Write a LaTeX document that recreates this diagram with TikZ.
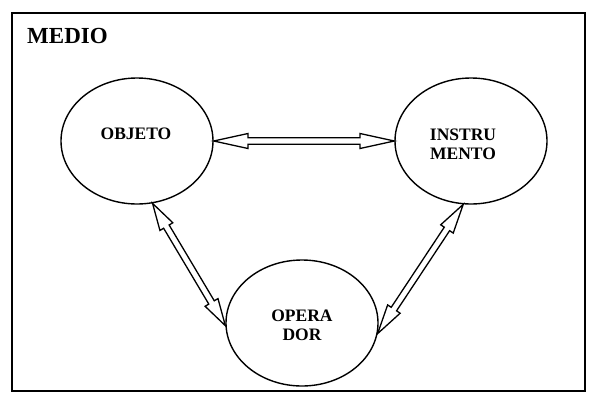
\documentclass[tikz,border=0pt]{standalone}
\usepackage{fontspec}
\setmainfont{Liberation Serif}
\usetikzlibrary{shapes.geometric,calc}
\tikzset{
  elip/.style={draw,ellipse,line width=1.4pt,minimum width=152pt,minimum height=126pt,inner sep=0pt},
  lbl/.style={font=\bfseries\fontsize{17.5}{19}\selectfont,align=center,inner sep=0pt},
  dblarrow/.style={draw,fill=white,line width=1.3pt,line join=miter,
    to path={-- ($(\tikztostart)!#1!(\tikztotarget)!7.5pt!90:(\tikztotarget)$)
      -- ($(\tikztostart)!#1!(\tikztotarget)!3.2pt!90:(\tikztotarget)$)
      -- ($(\tikztotarget)!#1!(\tikztostart)!3.2pt!-90:(\tikztostart)$)
      -- ($(\tikztotarget)!#1!(\tikztostart)!7.5pt!-90:(\tikztostart)$)
      -- (\tikztotarget)
      -- ($(\tikztotarget)!#1!(\tikztostart)!7.5pt!90:(\tikztostart)$)
      -- ($(\tikztotarget)!#1!(\tikztostart)!3.2pt!90:(\tikztostart)$)
      -- ($(\tikztostart)!#1!(\tikztotarget)!3.2pt!-90:(\tikztotarget)$)
      -- ($(\tikztostart)!#1!(\tikztotarget)!7.5pt!-90:(\tikztotarget)$)
      -- cycle}},
  dblarrow/.default=0.19
}
\begin{document}
\begin{tikzpicture}[x=1pt,y=-1pt]
\useasboundingbox (0,0) rectangle (599,402);
\draw[line width=1.5pt] (12,13) rectangle (585,391);
\node[lbl,font=\bfseries\fontsize{23}{26}\selectfont,anchor=base west] (medio) at (27,43) {MEDIO};
\foreach \n/\x/\y in {objeto/137/141,instru/471/141,operador/302/323}
  \node[elip] (\n) at (\x,\y) {};
\node[lbl] (objetotxt) at (136,134) {OBJETO};
\node[lbl] (instrutxt) at (463,144) {INSTRU\\MENTO};
\node[lbl] (operadortxt) at (302,325.5) {OPERA\\DOR};
\draw[dblarrow] (objeto.east) to (instru.west);
\draw[dblarrow] (objeto.-76) to (operador.182);
\draw[dblarrow] (instru.-97) to (operador.-8);
\end{tikzpicture}
\end{document}
